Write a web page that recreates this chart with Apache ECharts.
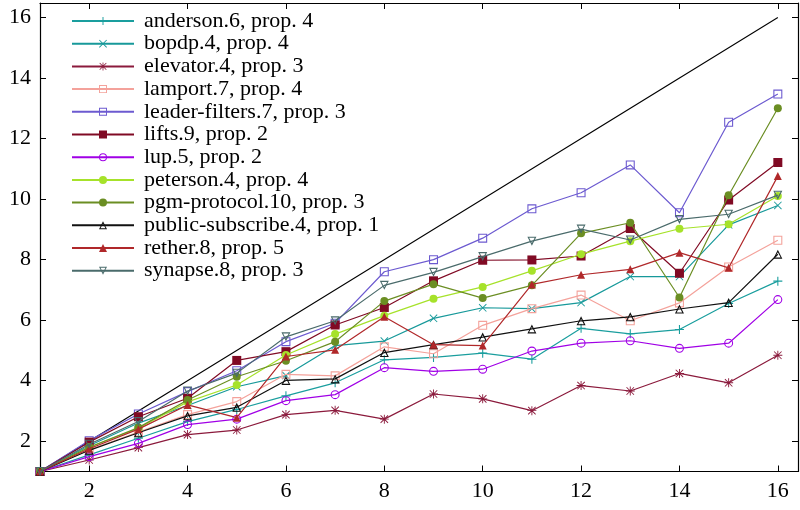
<!DOCTYPE html>
<html>
<head>
<meta charset="utf-8">
<script src="https://cdn.jsdelivr.net/npm/echarts@6/dist/echarts.min.js"></script>
<style>
  html, body { margin: 0; padding: 0; background: #fff; }
  #chart { width: 800px; height: 510px; }
</style>
</head>
<body>
<div id="chart"></div>
<script>
// x positions (same for every run)
const xs = [1, 2, 3, 4, 5, 6, 7, 8, 9, 10, 11, 12, 13, 14, 15, 16]
const xTicks = [2, 4, 6, 8, 10, 12, 14, 16]
const yTicks = [2, 4, 6, 8, 10, 12, 14, 16]
const diagonal = [1, 16]

const names = [
  'anderson.6, prop. 4',
  'bopdp.4, prop. 4',
  'elevator.4, prop. 3',
  'lamport.7, prop. 4',
  'leader-filters.7, prop. 3',
  'lifts.9, prop. 2',
  'lup.5, prop. 2',
  'peterson.4, prop. 4',
  'pgm-protocol.10, prop. 3',
  'public-subscribe.4, prop. 1',
  'rether.8, prop. 5',
  'synapse.8, prop. 3'
]

const anderson = [1, 1.55, 2.1, 2.65, 3.05, 3.5, 3.93, 4.69, 4.77, 4.91, 4.71, 5.73, 5.55, 5.69, 6.55, 7.29]
const bopdp = [1, 1.85, 2.6, 3.18, 3.8, 4.17, 5.16, 5.31, 6.06, 6.41, 6.38, 6.58, 7.44, 7.44, 9.15, 9.79]
const elevator = [1, 1.38, 1.79, 2.22, 2.37, 2.88, 3.02, 2.73, 3.56, 3.4, 3.01, 3.84, 3.66, 4.24, 3.93, 4.84]
const lamport = [1, 1.72, 2.3, 2.88, 3.31, 4.21, 4.16, 5.12, 4.89, 5.83, 6.38, 6.83, 5.98, 6.57, 7.76, 8.64]
const leaderFilters = [1, 2.02, 2.9, 3.64, 4.33, 5.29, 5.9, 7.6, 8.0, 8.71, 9.68, 10.21, 11.13, 9.55, 12.54, 13.47]
const lifts = [1, 1.97, 2.81, 3.42, 4.67, 4.96, 5.84, 6.42, 7.3, 7.98, 7.99, 8.12, 9.03, 7.55, 9.97, 11.21]
const lup = [1, 1.49, 1.93, 2.55, 2.73, 3.34, 3.54, 4.43, 4.31, 4.38, 4.98, 5.24, 5.32, 5.07, 5.24, 6.68]
const peterson = [1, 1.8, 2.43, 3.3, 3.86, 4.85, 5.54, 6.15, 6.71, 7.1, 7.63, 8.18, 8.61, 9.02, 9.17, 10.1]
const pgmProtocol = [1, 1.8, 2.45, 3.36, 4.13, 4.66, 5.29, 6.63, 7.19, 6.73, 7.15, 8.87, 9.22, 6.75, 10.13, 13.0]
const publicSubscribe = [1, 1.7, 2.28, 2.84, 3.12, 4.01, 4.06, 4.93, 5.19, 5.44, 5.71, 5.98, 6.11, 6.37, 6.58, 8.18]
const rether = [1, 1.75, 2.4, 3.2, 2.78, 4.8, 5.02, 6.11, 5.19, 5.16, 7.18, 7.5, 7.68, 8.23, 7.73, 10.76]
const synapse = [1, 1.9, 2.65, 3.66, 4.25, 5.45, 5.98, 7.15, 7.58, 8.1, 8.61, 9.01, 8.65, 9.33, 9.5, 10.13]

const allValues = [anderson, bopdp, elevator, lamport, leaderFilters, lifts, lup,
  peterson, pgmProtocol, publicSubscribe, rether, synapse]

// gnuplot-ish point types
const plusPath = 'path://M4.4,0H5.6V10H4.4Z M0,4.4H10V5.6H0Z'
const crossPath = 'path://M0.8,0L10,9.2L9.2,10L0,0.8Z M9.2,0L10,0.8L0.8,10L0,9.2Z'
const starPath = 'path://M4.5,0H5.5V10H4.5Z M0,4.5H10V5.5H0Z M1.2,0.5L9.5,8.8L8.8,9.5L0.5,1.2Z M8.8,0.5L9.5,1.2L1.2,9.5L0.5,8.8Z'
const openSquare = 'path://M0,0H10V10H0Z M1.2,1.2V8.8H8.8V1.2Z'
const openCircle = 'path://M5,0A5,5 0 1,1 5,10A5,5 0 1,1 5,0Z M5,1.2A3.8,3.8 0 1,0 5,8.8A3.8,3.8 0 1,0 5,1.2Z'
const openTriUp = 'path://M5,0L10,9L0,9Z M5,2.6L1.9,7.9H8.1Z'
const openTriDown = 'path://M0,0H10L5,9Z M1.9,1.1L5,6.4L8.1,1.1Z'

const styles = [
  { color: '#1a9e9e', symbol: plusPath, size: 9 },
  { color: '#17999a', symbol: crossPath, size: 8 },
  { color: '#8b1a3c', symbol: starPath, size: 9 },
  { color: '#f4a29b', symbol: openSquare, size: 9 },
  { color: '#6c5ad0', symbol: openSquare, size: 9 },
  { color: '#800a24', symbol: 'rect', size: 9 },
  { color: '#a000e6', symbol: openCircle, size: 9 },
  { color: '#a6e22a', symbol: 'circle', size: 8 },
  { color: '#6b8e23', symbol: 'circle', size: 8 },
  { color: '#111111', symbol: openTriUp, size: 9 },
  { color: '#b0282a', symbol: 'triangle', size: 8 },
  { color: '#4a6b6b', symbol: openTriDown, size: 9 }
]

// Times-like face, as in the gnuplot output
const fontFamily = 'Liberation Serif'

const chart = echarts.init(document.getElementById('chart'))

const series = names.map((name, i) => ({
  name: name,
  type: 'line',
  data: xs.map((x, j) => [x, allValues[i][j]]),
  symbol: styles[i].symbol,
  symbolSize: styles[i].size,
  showSymbol: true,
  lineStyle: { color: styles[i].color, width: 1.2 },
  itemStyle: { color: styles[i].color, borderWidth: 0 },
  emphasis: { disabled: true },
  z: 3 + i
}))

series.push({
  name: 'diag',
  type: 'line',
  data: diagonal.map(v => [v, v]),
  symbol: 'none',
  lineStyle: { color: '#000', width: 1.1 },
  emphasis: { disabled: true },
  z: 2
})

const axisBase = {
  type: 'value',
  splitLine: { show: false },
  axisLine: { show: true, onZero: false, lineStyle: { color: '#000', width: 1.2 } },
  axisTick: { show: true, inside: true, length: 6, lineStyle: { color: '#000', width: 1 } },
  axisLabel: { show: false }
}

chart.setOption({
  animation: false,
  backgroundColor: '#fff',
  grid: { left: 40, right: 2, top: 3, bottom: 38.5, containLabel: false },
  legend: {
    data: names,
    orient: 'vertical',
    left: 66,
    top: 5,
    itemWidth: 62,
    itemHeight: 10,
    itemGap: 0.7,
    selectedMode: false,
    textStyle: {
      fontFamily: fontFamily,
      fontSize: 22,
      lineHeight: 22,
      color: '#000',
      padding: [0, 0, 0, 5]
    }
  },
  xAxis: [
    Object.assign({}, axisBase, {
      position: 'bottom',
      min: 1,
      max: 16.41,
      axisTick: Object.assign({}, axisBase.axisTick, { customValues: xTicks }),
      axisLabel: {
        show: true,
        customValues: xTicks,
        margin: 9,
        fontFamily: fontFamily,
        fontSize: 22,
        color: '#000'
      }
    }),
    Object.assign({}, axisBase, {
      position: 'top',
      min: 1,
      max: 16.41,
      axisTick: Object.assign({}, axisBase.axisTick, { customValues: xTicks })
    })
  ],
  yAxis: [
    Object.assign({}, axisBase, {
      position: 'left',
      min: 1,
      max: 16.48,
      axisTick: Object.assign({}, axisBase.axisTick, { customValues: yTicks }),
      axisLabel: {
        show: true,
        customValues: yTicks,
        margin: 9,
        fontFamily: fontFamily,
        fontSize: 22,
        color: '#000'
      }
    }),
    Object.assign({}, axisBase, {
      position: 'right',
      min: 1,
      max: 16.48,
      axisTick: Object.assign({}, axisBase.axisTick, { customValues: yTicks })
    })
  ],
  series: series
})
</script>
</body>
</html>
